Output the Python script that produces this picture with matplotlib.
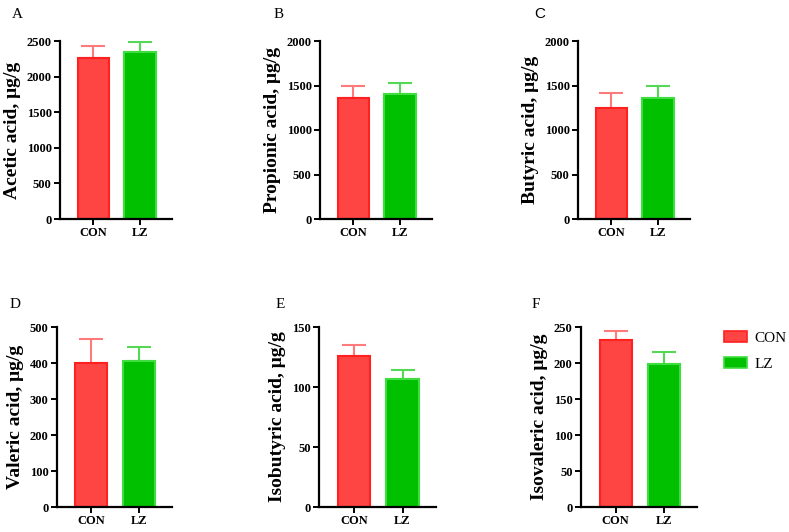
import matplotlib.pyplot as plt
from matplotlib.patches import Patch

# data
groups = ['CON', 'LZ']
acids = ['Acetic acid', 'Propionic acid', 'Butyric acid',
         'Valeric acid', 'Isobutyric acid', 'Isovaleric acid']
letters = ['A', 'B', 'C', 'D', 'E', 'F']
con_mean = [2265, 1356, 1243, 401, 125.8, 232]
con_err = [165, 135, 168, 65, 9, 12]
lz_mean = [2350, 1401, 1363, 405, 106.6, 199]
lz_err = [130, 124, 135, 39, 7.5, 16]
ymax = [2500, 2000, 2000, 500, 150, 250]
ystep = [500, 500, 500, 100, 50, 50]

fill = ['#ff4444', '#00c000']
edge = ['#ff2020', '#40dd40']
errc = ['#ff7a7a', '#55d855']

W, H = 789, 532
# axes boxes in pixels: left, top, right, bottom
boxes = [(60, 41, 172, 219), (320, 41, 432, 219), (578, 41, 690, 219),
         (57, 327, 172, 507), (319, 327, 436, 507), (581, 327, 697, 507)]
letter_pos = [(12, 14), (274, 14), (534, 14), (10, 304), (276, 304), (532, 304)]

plt.rcParams['font.family'] = ['Liberation Serif', 'DejaVu Serif']
fig = plt.figure(figsize=(W / 100, H / 100), dpi=100)

for i in range(6):
    l, t, r, b = boxes[i]
    ax = fig.add_axes([l / W, 1 - b / H, (r - l) / W, (b - t) / H])
    vals = [con_mean[i], lz_mean[i]]
    errs = [con_err[i], lz_err[i]]
    for j in range(2):
        ax.bar(j, vals[j], width=0.67, color=fill[j], edgecolor=edge[j],
               linewidth=1.5, zorder=2)
        ax.errorbar(j, vals[j], yerr=[[0], [errs[j]]], fmt='none',
                    ecolor=errc[j], elinewidth=1.5, capsize=8.5, capthick=1.5,
                    zorder=1)
    ax.set_xlim(-0.72, 1.69)
    ax.set_ylim(0, ymax[i])
    ax.set_yticks(range(0, ymax[i] + 1, ystep[i]))
    ax.set_xticks([0, 1])
    ax.set_xticklabels(groups)
    for s in ['top', 'right']:
        ax.spines[s].set_visible(False)
    for s in ['left', 'bottom']:
        ax.spines[s].set_linewidth(1.6)
    ax.tick_params(width=1.4, length=4, labelsize=9, pad=2)
    for lab in ax.get_xticklabels() + ax.get_yticklabels():
        lab.set_fontweight('bold')
    ax.set_ylabel(acids[i] + ', μg/g', fontsize=14, fontweight='bold',
                  labelpad=4)
    fam = 'Liberation Sans' if letters[i] == 'C' else 'Liberation Serif'
    fig.text(letter_pos[i][0] / W, 1 - letter_pos[i][1] / H, letters[i],
             fontsize=11, family=fam, va='center', ha='left')

handles = [Patch(facecolor=fill[j], edgecolor=edge[j], linewidth=1.2)
           for j in range(2)]
fig.legend(handles, groups, loc='center left',
           bbox_to_anchor=(710 / W, 1 - 351 / H), frameon=False,
           fontsize=11, handlelength=1.5, handleheight=0.7,
           labelspacing=0.8, handletextpad=0.5)

fig.savefig('out.png', dpi=100)
